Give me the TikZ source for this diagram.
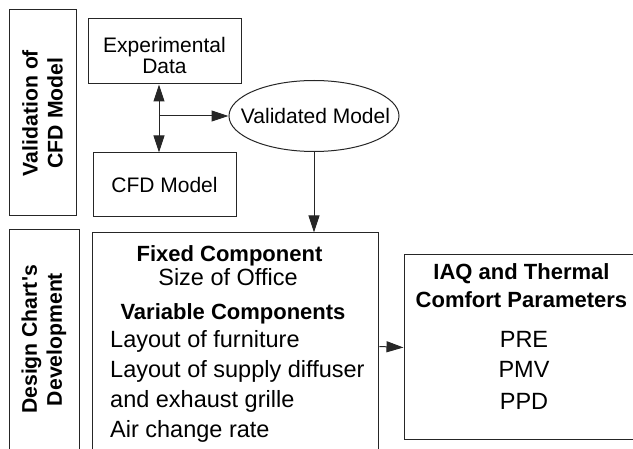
\documentclass[tikz,border=0pt]{standalone}
\usepackage{fontspec}
\setmainfont{Liberation Sans}
\usetikzlibrary{arrows.meta,positioning,shapes.geometric}
\tikzset{
  >={Triangle[length=17pt,width=11pt]},
  % rutor
  box/.style={draw=black!85,line width=1pt,inner sep=0pt},
  oval/.style={ellipse,draw=black!85,line width=1pt,inner sep=0pt,
               minimum width=170pt,minimum height=71pt},
  small/.style={inner sep=0pt,font=\fontsize{21}{21}\selectfont},
  txt/.style={inner sep=0pt,font=\fontsize{23.5}{29}\selectfont},
  hd/.style={inner sep=0pt,font=\fontsize{22}{28}\selectfont\bfseries},
  side/.style={inner sep=0pt,rotate=90,align=center,
               font=\fontsize{21.2}{25}\selectfont\bfseries},
  % pilar
  arr/.style={draw=black!85,line width=1pt},
}
\begin{document}
\begin{tikzpicture}[x=1pt,y=-1pt]
\useasboundingbox (0,0) rectangle (633,449);
\clip (0,0) rectangle (633,449);
  \node[box,minimum width=67pt,minimum height=206pt] (valbox) at (42.5,113) {};
  \node[side] (valtxt) at (42.5,113) {Validation of\\CFD Model};
  \node[box,minimum width=70pt,minimum height=230pt] (desbox) at (44,345) {};
  \node[side] (destxt) at (44,339.5) {Design Chart\textquotesingle s\\Development};
  \node[box,minimum width=153pt,minimum height=65pt] (exp) at (164.5,51.5) {};
  \node[small,align=center] (exptxt) at (164.5,55) {Experimental\\Data};
  \node[box,small,minimum width=143pt,minimum height=64pt] (cfd) at (164.5,185) {CFD Model};
  \node[oval] (valid) at (314,116) {};
  \node[small] (validtxt) at (315.5,116) {Validated Model};
  \node[box,minimum width=286pt,minimum height=227pt] (comp) at (235.8,346.5) {};
  \node[hd,anchor=base] (fixhd) at (229.5,262) {Fixed Component};
  \node[txt,anchor=base] (fixsize) at (228,286) {Size of Office};
  \node[hd,anchor=base] (varhd) at (233,320) {Variable Components};
  \node[txt,anchor=base west] (var1) at (110,348) {Layout of furniture};
  \node[txt,anchor=base west] (var2) at (110,378) {Layout of supply diffuser};
  \node[txt,anchor=base west] (var3) at (110,408) {and exhaust grille};
  \node[txt,anchor=base west] (var4) at (110,438) {Air change rate};
  \node[box,minimum width=256pt,minimum height=185pt] (param) at (532,347.5) {};
  \node[hd,anchor=base] (parhd1) at (521.5,280) {IAQ and Thermal};
  \node[hd,anchor=base] (parhd2) at (521.5,308) {Comfort Parameters};
  \node[txt,anchor=base] (pre) at (524,348) {PRE};
  \node[txt,anchor=base] (pmv) at (524,378) {PMV};
  \node[txt,anchor=base] (ppd) at (524,410) {PPD};
  \coordinate (split) at (159,116);
  \draw[arr,<->] (exp.south -| split) -- (cfd.north -| split);
  \draw[arr,->] (split) -- (valid.west);
  \draw[arr,->] (valid.south) -- (valid.south |- comp.north);
  \draw[arr,->] (comp.east) -- (param.west);
\end{tikzpicture}
\end{document}
